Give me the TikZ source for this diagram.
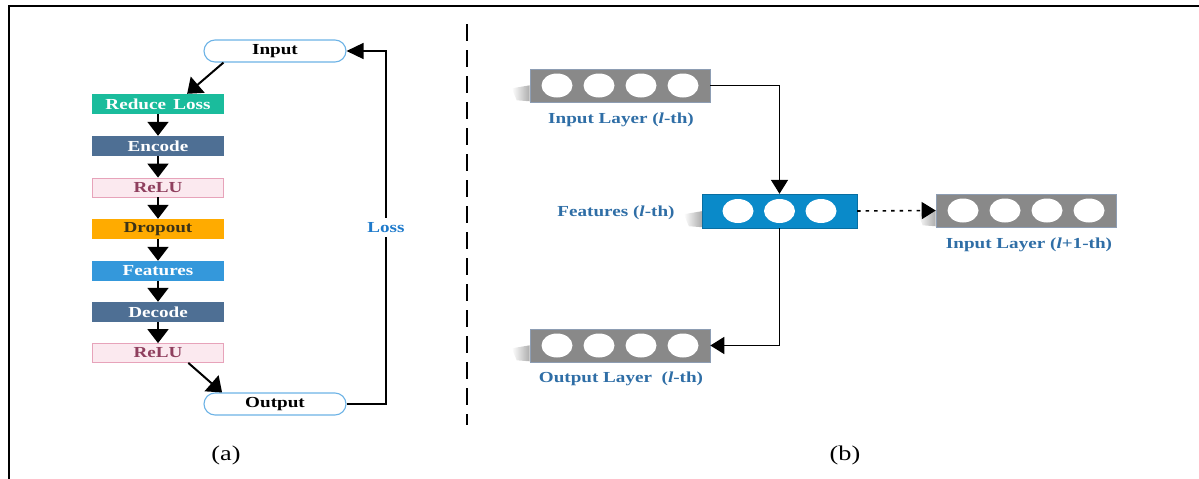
\documentclass[tikz,border=0pt]{standalone}
\usepackage{fontspec}
\setmainfont[FakeStretch=1.25]{Liberation Serif}
\usetikzlibrary{arrows.meta,calc,shapes.geometric,backgrounds}
\definecolor{tealbox}{HTML}{1ABC9C}
\definecolor{slate}{HTML}{4E6F94}
\definecolor{relufill}{HTML}{FBE9EF}
\definecolor{reludraw}{HTML}{E7A3BA}
\definecolor{relutext}{HTML}{8F3F5E}
\definecolor{dropfill}{HTML}{FFAB00}
\definecolor{droptext}{HTML}{3B3318}
\definecolor{featl}{HTML}{3498DB}
\definecolor{pilledge}{HTML}{6DB3E6}
\definecolor{lossblue}{HTML}{1E7ACB}
\definecolor{lbl}{HTML}{2F6EA6}
\definecolor{grayfill}{HTML}{898989}
\definecolor{grayedge}{HTML}{8D9DB3}
\definecolor{featr}{HTML}{0A8AC9}
\begin{document}
\begin{tikzpicture}[x=1pt,y=-1pt,
  bf/.style={font=\fontsize{15.3}{17}\selectfont\bfseries},
  blk/.style={rectangle, minimum width=132pt, minimum height=20pt, inner sep=0pt, bf},
  pillbox/.style={rectangle, rounded corners=11pt, draw=pilledge, line width=1.1pt, fill=white,
    minimum width=142pt, minimum height=22pt, inner sep=0pt, bf, text=black},
  flow/.style={line width=2pt, -{Triangle[width=21pt,length=14pt]}},
  link/.style={line width=1.6pt, -{Triangle[width=17pt,length=14pt]}},
  layer/.style={rectangle, fill=grayfill, draw=grayedge, line width=0.6pt,
    minimum width=180pt, minimum height=33pt, inner sep=0pt},
  featbox/.style={rectangle, fill=featr, draw=featr!80!black, line width=0.4pt,
    minimum width=155pt, minimum height=34pt, inner sep=0pt},
  cell/.style={ellipse, fill=white, minimum width=31pt, minimum height=24pt, inner sep=0pt},
  lbltext/.style={bf, text=lbl},
  caption/.style={font=\fontsize{21}{24}\selectfont}
]
\useasboundingbox (0,0) rectangle (1199,479);

% frame
\coordinate (fbl) at (9,479);
\coordinate (ftl) at (9,6);
\coordinate (ftr) at (1199,6);
\draw[line width=2pt] (fbl) -- (ftl) -- (ftr);

% ---------- panel (a) ----------
\node[pillbox] (inp) at (275,51) {Input};
\node[blk, fill=tealbox, text=white] (rl) at (158,104) {Reduce\,\ Loss};
\node[blk, fill=slate, text=white] (enc) at (158,146) {Encode};
\node[blk, fill=relufill, draw=reludraw, line width=0.8pt, text=relutext, minimum width=131pt, minimum height=19pt] (relu1) at (158,187.5) {ReLU};
\node[blk, fill=dropfill, text=droptext] (drop) at (158,229) {Dropout};
\node[blk, fill=featl, text=white] (feat) at (158,271) {Features};
\node[blk, fill=slate, text=white] (dec) at (158,312) {Decode};
\node[blk, fill=relufill, draw=reludraw, line width=0.8pt, text=relutext, minimum width=131pt, minimum height=19pt] (relu2) at (158,353) {ReLU};
\node[pillbox] (out) at (275,404) {Output};

\draw[flow] ($(inp.south west)!0.14!(inp.south east)$) -- ($(rl.north west)!0.72!(rl.north east)$);
\draw[flow] (rl) -- (enc);
\draw[flow] (enc) -- (relu1);
\draw[flow] (relu1) -- (drop);
\draw[flow] (drop) -- (feat);
\draw[flow] (feat) -- (dec);
\draw[flow] (dec) -- (relu2);
\draw[flow] ($(relu2.south west)!0.73!(relu2.south east)$) -- ($(out.north west)!0.13!(out.north east)$);

\node[bf, text=lossblue, inner sep=0pt, minimum height=19pt] (loss) at (386,227.5) {Loss};
\draw[line width=1.5pt] (out.east) -| (loss.south);
\draw[line width=1.5pt, -{Triangle[width=16pt,length=17pt]}] (loss.north) |- (inp.east);

\node[caption] (capa) at (226,455) {(a)};

% separator
\coordinate (sepT) at (467,24);
\coordinate (sepB) at (467,425);
\draw[line width=1.8pt, dash pattern=on 17pt off 9pt] (sepT) -- (sepB);

% ---------- panel (b) ----------
\node[layer] (il) at (620,85.5) {};
\node[featbox] (fr) at (779.5,211) {};
\node[layer] (il2) at (1026,210.5) {};
\node[layer] (ol) at (620,345.5) {};

\foreach \n/\k in {il/4, il2/4, ol/4}{
  \foreach \i [evaluate=\i as \dx using (\i-2.5)*42] in {1,...,\k}{
    \node[cell] (\n-c\i) at ($(\n.center)+(\dx,0)$) {};
  }
}
\foreach \i [evaluate=\i as \dx using (\i-2)*41.5] in {1,2,3}{
  \node[cell] (fr-c\i) at ($(fr.center)+(\dx,0)$) {};
}

\begin{scope}[on background layer]
  \foreach \n in {il, fr, il2, ol}{
    \shade[left color=white, right color=gray!65]
      ($(\n.south west)+(-18,-14)$) -- ($(\n.south west)+(0,-17)$) --
      ($(\n.south west)+(0,-1)$) -- ($(\n.south west)+(-13,-2)$) -- cycle;
  }
\end{scope}

\node[lbltext] (il-lbl) at (621,120) {Input Layer (\textit{l}-th)};
\node[lbltext] (fr-lbl) at (616,213) {Features (\textit{l}-th)};
\node[lbltext] (il2-lbl) at (1029,245) {Input Layer (\textit{l}+1-th)};
\node[lbltext] (ol-lbl) at (621,379) {Output Layer\ \ (\textit{l}-th)};

\draw[link] (il.east) -| (fr.north);
\draw[link] (fr.south) |- (ol.east);
\draw[line width=1.6pt, dash pattern=on 3.5pt off 5pt, -{Triangle[width=17pt,length=14pt]}] (fr.east) -- (il2.west);

\node[caption] (capb) at (845,455) {(b)};
\end{tikzpicture}
\end{document}
